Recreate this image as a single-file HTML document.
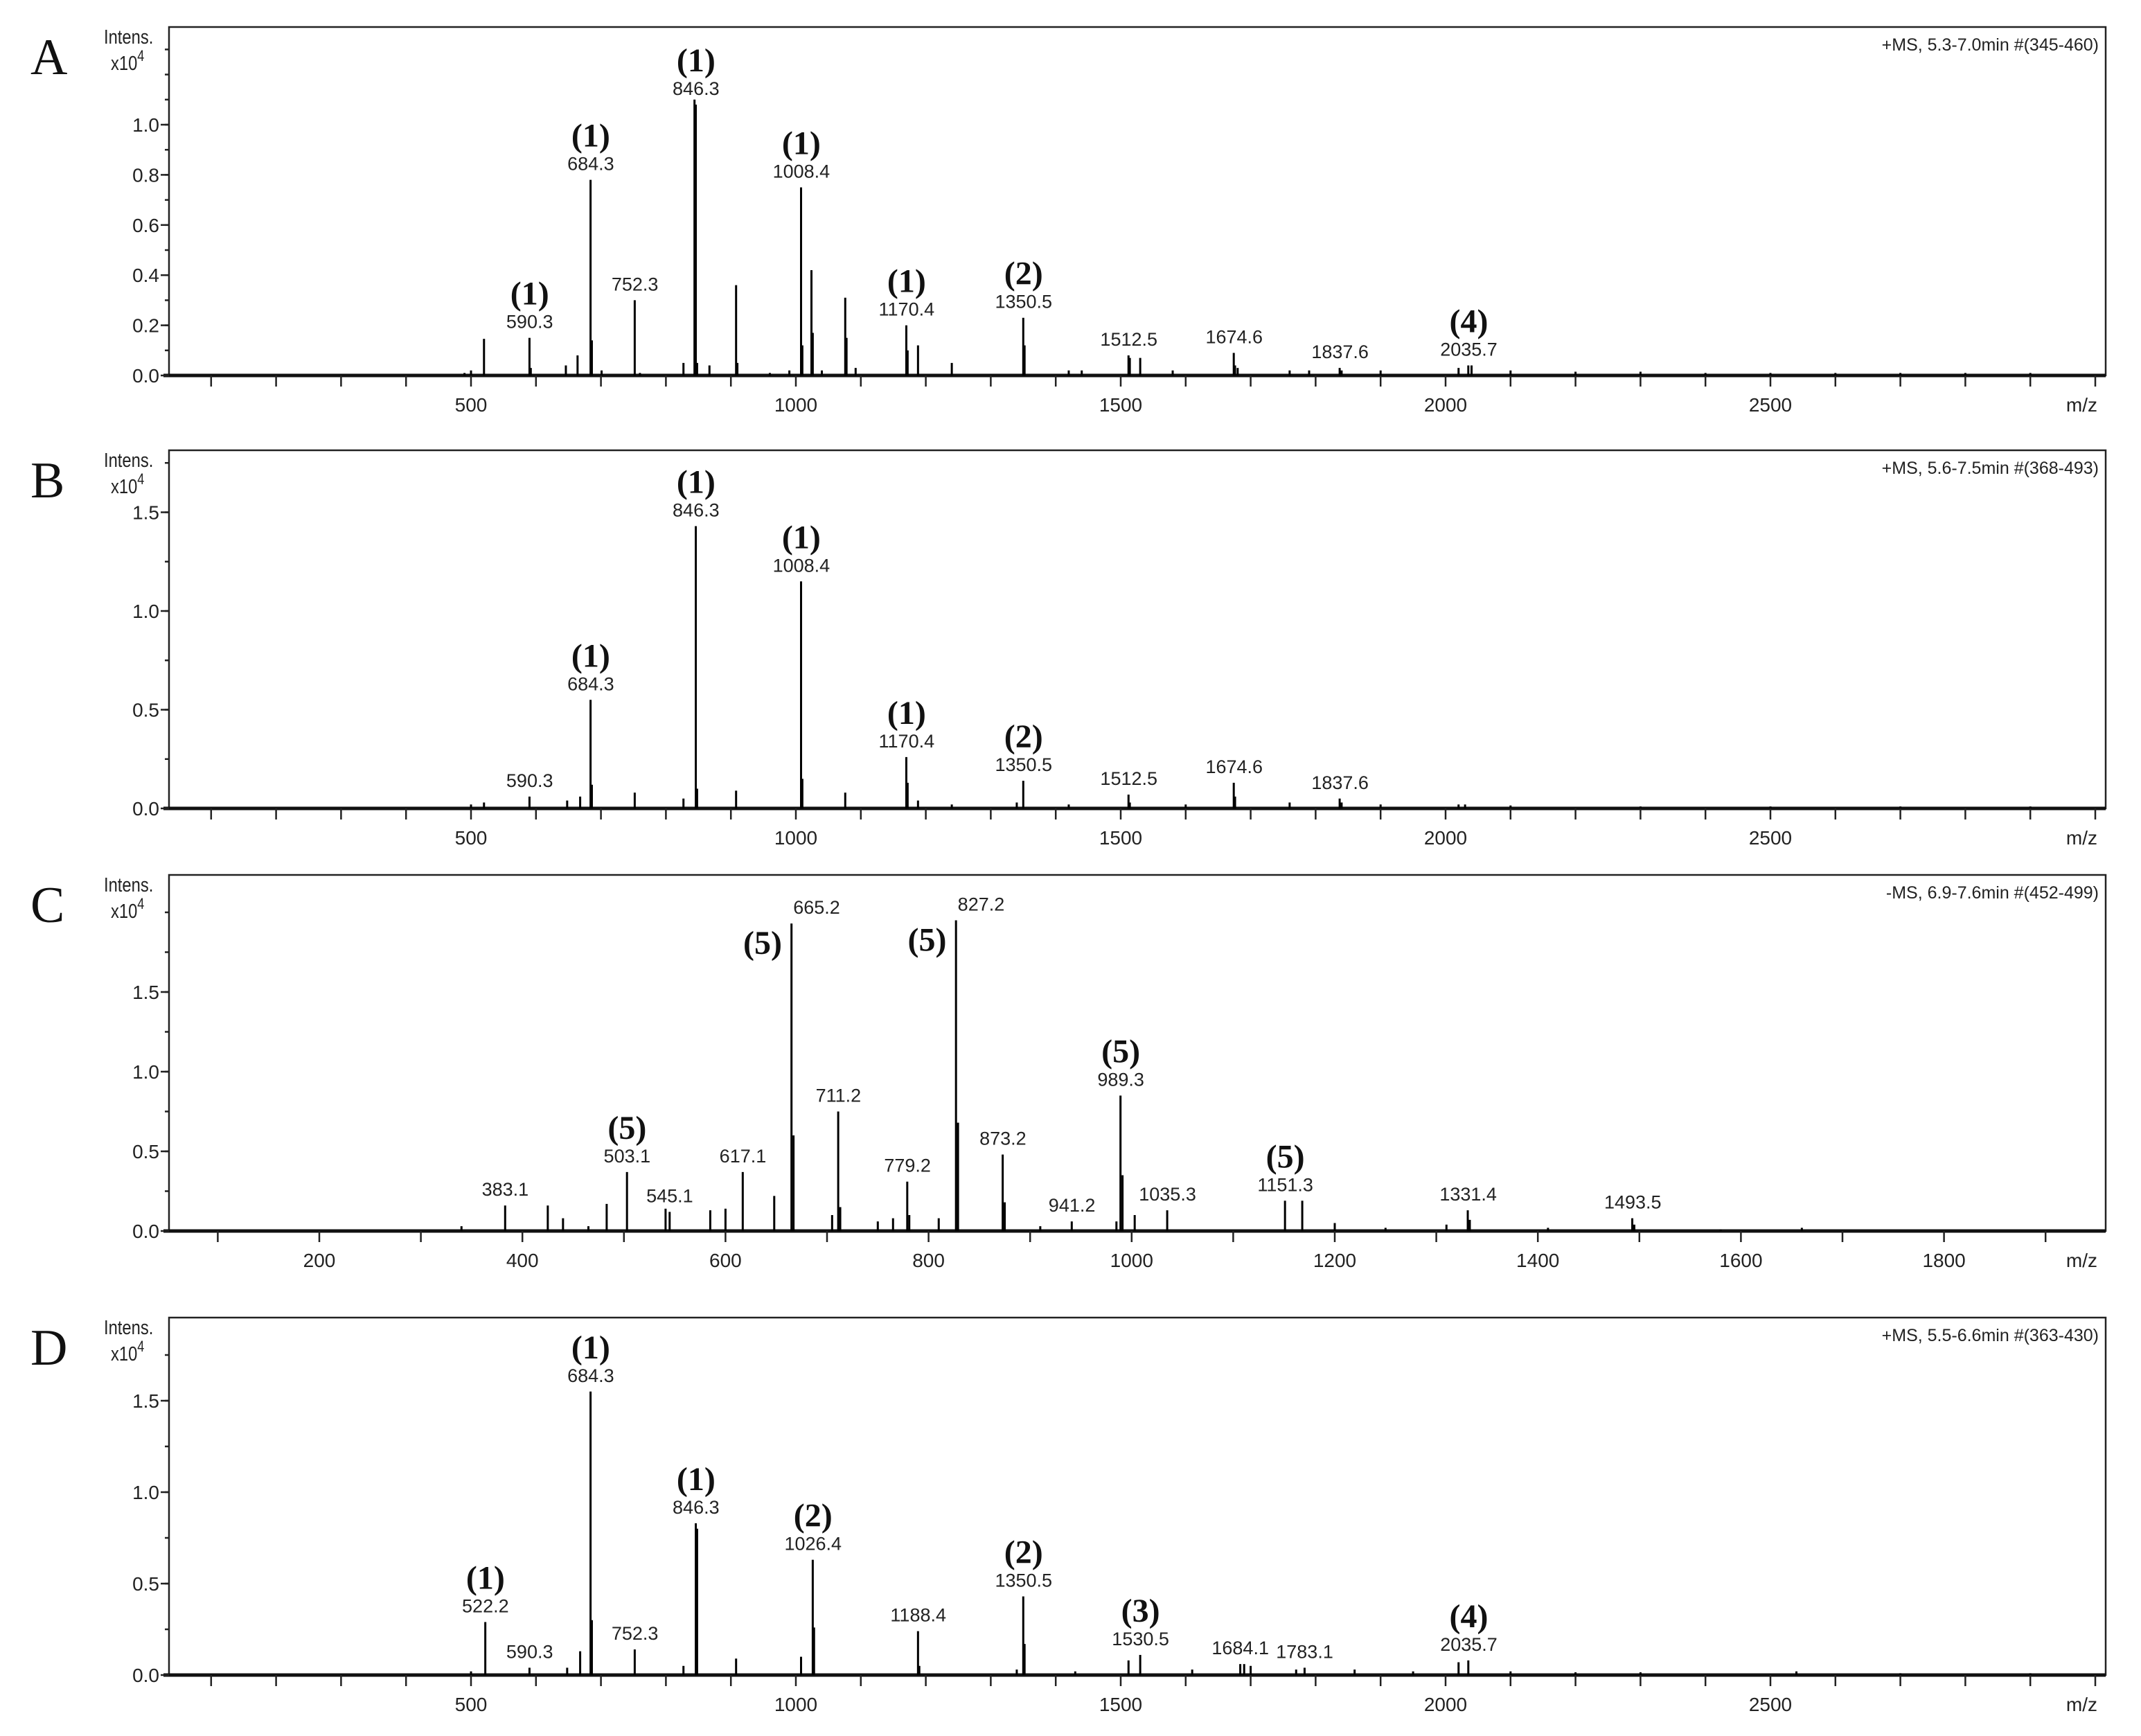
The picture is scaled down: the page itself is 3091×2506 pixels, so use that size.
<!DOCTYPE html>
<html><head><meta charset="utf-8"><title>Mass spectra A-D</title>
<style>
html,body{margin:0;padding:0;background:#fff;}
svg{display:block;font-family:"Liberation Sans",sans-serif;}
.num{font-size:27px;fill:#222;}
.ann{font-family:"Liberation Serif",serif;font-weight:bold;font-size:48px;fill:#111;}
.tick{font-size:28px;fill:#222;}
.letter{font-family:"Liberation Serif",serif;font-size:74px;fill:#111;}
</style></head>
<body>
<svg id="chart" width="3091" height="2506" viewBox="0 0 3091 2506" xmlns="http://www.w3.org/2000/svg"></svg>
<script>
// ---- Panel A data ----
const peaksA_mz  = [490,500,520,590,592,646,664,684,686,701,752,760,827,844,846,848,867,908,910,960,990,1008,1010,1024,1026,1040,1076,1078,1092,1170,1172,1188,1240,1350,1352,1420,1440,1512,1514,1530,1580,1674,1676,1680,1760,1790,1837,1840,1900,2020,2035,2040,2100,2200,2300,2400,2500,2600,2700,2800,2900];
const peaksA_int = [0.01,0.02,0.146,0.15,0.03,0.04,0.08,0.78,0.14,0.02,0.30,0.01,0.05,1.10,1.08,0.05,0.04,0.36,0.05,0.01,0.02,0.75,0.12,0.42,0.17,0.02,0.31,0.15,0.03,0.20,0.10,0.12,0.05,0.23,0.12,0.02,0.02,0.08,0.07,0.07,0.02,0.09,0.04,0.03,0.02,0.02,0.03,0.02,0.02,0.03,0.04,0.04,0.02,0.015,0.015,0.01,0.01,0.01,0.01,0.01,0.01];
const labelsA_mz  = [590.3,684.3,752.3,846.3,1008.4,1170.4,1350.5,1512.5,1674.6,1837.6,2035.7];
const labelsA_txt = ["590.3","684.3","752.3","846.3","1008.4","1170.4","1350.5","1512.5","1674.6","1837.6","2035.7"];
const labelsA_ann = ["(1)","(1)","","(1)","(1)","(1)","(2)","","","","(4)"];
// ---- Panel B data ----
const peaksB_mz  = [500,520,590,648,668,684,686,752,827,846,848,908,1008,1010,1076,1170,1172,1188,1240,1340,1350,1420,1512,1514,1600,1674,1676,1760,1837,1840,1900,2020,2030,2100,2300,2500,2700,2900];
const peaksB_int = [0.02,0.03,0.06,0.04,0.06,0.55,0.12,0.08,0.05,1.43,0.10,0.09,1.15,0.15,0.08,0.26,0.13,0.04,0.02,0.03,0.14,0.02,0.07,0.03,0.02,0.13,0.06,0.03,0.05,0.03,0.02,0.02,0.02,0.015,0.01,0.01,0.01,0.01];
const labelsB_mz  = [590.3,684.3,846.3,1008.4,1170.4,1350.5,1512.5,1674.6,1837.6];
const labelsB_txt = ["590.3","684.3","846.3","1008.4","1170.4","1350.5","1512.5","1674.6","1837.6"];
const labelsB_ann = ["","(1)","(1)","(1)","(1)","(2)","","",""];
// ---- Panel C data ----
const peaksC_mz  = [340,383,425,440,465,483,503,541,545,585,600,617,648,665,667,705,711,713,750,765,779,781,810,827,829,873,875,910,941,985,989,991,1003,1035,1151,1168,1200,1250,1310,1331,1333,1410,1493,1495,1580,1660];
const peaksC_int = [0.03,0.16,0.16,0.08,0.03,0.17,0.37,0.14,0.12,0.13,0.14,0.37,0.22,1.93,0.60,0.10,0.75,0.15,0.06,0.08,0.31,0.10,0.08,1.95,0.68,0.48,0.18,0.03,0.06,0.06,0.85,0.35,0.10,0.13,0.19,0.19,0.05,0.02,0.04,0.13,0.07,0.02,0.08,0.04,0.01,0.02];
const labelsC_mz  = [383.1,503.1,545.1,617.1,665.2,711.2,779.2,827.2,873.2,941.2,989.3,1035.3,1151.3,1331.4,1493.5];
const labelsC_txt = ["383.1","503.1","545.1","617.1","665.2","711.2","779.2","827.2","873.2","941.2","989.3","1035.3","1151.3","1331.4","1493.5"];
const labelsC_ann = ["","(5)","","","(5)L","","","(5)L","","","(5)","","(5)","",""];
// ---- Panel D data ----
const peaksD_mz  = [500,522,590,648,668,684,686,752,827,846,848,908,1008,1026,1028,1188,1190,1340,1350,1352,1430,1512,1530,1610,1684,1690,1700,1770,1783,1860,1950,2020,2035,2100,2200,2300,2540,2700,2900];
const peaksD_int = [0.02,0.29,0.04,0.04,0.13,1.55,0.30,0.14,0.05,0.83,0.80,0.09,0.10,0.63,0.26,0.24,0.05,0.03,0.43,0.17,0.02,0.08,0.11,0.03,0.06,0.06,0.05,0.03,0.04,0.03,0.02,0.07,0.08,0.02,0.015,0.015,0.02,0.01,0.01];
const labelsD_mz  = [522.2,590.3,684.3,752.3,846.3,1026.4,1188.4,1350.5,1530.5,1684.1,1783.1,2035.7];
const labelsD_txt = ["522.2","590.3","684.3","752.3","846.3","1026.4","1188.4","1350.5","1530.5","1684.1","1783.1","2035.7"];
const labelsD_ann = ["(1)","","(1)","","(1)","(2)","","(2)","(3)","","","(4)"];
// ---- axis tick definitions ----
const yTicksA = [0.0,0.2,0.4,0.6,0.8,1.0];
const yTicksB = [0.0,0.5,1.0,1.5];
const xLabelsWide = [500,1000,1500,2000,2500];
const xLabelsC = [200,400,600,800,1000,1200,1400,1600,1800];

const NS="http://www.w3.org/2000/svg";
const svg=document.getElementById('chart');
function mk(tag,attrs,parent){const e=document.createElementNS(NS,tag);for(const k in attrs)e.setAttribute(k,attrs[k]);(parent||svg).appendChild(e);return e;}

const L=244, R=3040;
function wideX(mz){return 680+(mz-500)*0.938;}
function cX(mz){return 461+(mz-200)*1.466;}

const panels=[
 {id:'a',letter:'A',top:39,base:542,per:362,x:wideX,minMz:37,maxMz:3022,yT:yTicksA,yMinor:0.1,yMax:1.39,xL:xLabelsWide,xMinor:100,title:'+MS, 5.3-7.0min #(345-460)',pm:peaksA_mz,pi:peaksA_int,lm:labelsA_mz,lt:labelsA_txt,la:labelsA_ann},
 {id:'b',letter:'B',top:650,base:1167,per:285,x:wideX,minMz:37,maxMz:3022,yT:yTicksB,yMinor:0.25,yMax:1.82,xL:xLabelsWide,xMinor:100,title:'+MS, 5.6-7.5min #(368-493)',pm:peaksB_mz,pi:peaksB_int,lm:labelsB_mz,lt:labelsB_txt,la:labelsB_ann},
 {id:'c',letter:'C',top:1263,base:1777,per:230,x:cX,minMz:47,maxMz:1956,yT:yTicksB,yMinor:0.25,yMax:2.23,xL:xLabelsC,xMinor:100,title:'-MS, 6.9-7.6min #(452-499)',pm:peaksC_mz,pi:peaksC_int,lm:labelsC_mz,lt:labelsC_txt,la:labelsC_ann},
 {id:'d',letter:'D',top:1902,base:2418,per:264,x:wideX,minMz:37,maxMz:3022,yT:yTicksB,yMinor:0.25,yMax:1.95,xL:xLabelsWide,xMinor:100,title:'+MS, 5.5-6.6min #(363-430)',pm:peaksD_mz,pi:peaksD_int,lm:labelsD_mz,lt:labelsD_txt,la:labelsD_ann}
];

panels.forEach(p=>{
  const g=mk('g',{});
  
  
  const Y=v=>p.base-v*p.per;
  const let_=mk('text',{x:44,y:p.top+68,class:'letter'},g);let_.textContent=p.letter;
  
  
  const fr=mk('rect',{x:L,y:p.top,width:R-L,height:p.base-p.top,fill:'none',stroke:'#222','stroke-width':2.5},g);
  
  
  const bl=mk('line',{x1:L-8,x2:R,y1:p.base,y2:p.base,stroke:'#111','stroke-width':5},g);
  
  
  const it=mk('text',{x:150,y:p.top+24,'font-size':29,fill:'#222'},g);
  it.setAttribute('transform',`matrix(0.82,0,0,1,${150*0.18},0)`);
  it.textContent='Intens.';
  
  
  const xt=mk('text',{x:160,y:p.top+62,'font-size':29,fill:'#222'},g);
  xt.setAttribute('transform',`matrix(0.82,0,0,1,${160*0.18},0)`);
  xt.innerHTML='x10<tspan dy="-13" font-size="22">4</tspan>';
  
  
  const ti=mk('text',{x:R-10,y:p.top+34,'font-size':25,fill:'#222','text-anchor':'end'},g);
  ti.textContent=p.title;
  
  
  for(let v=0;v<=p.yMax+1e-9;v+=p.yMinor){
    const l=mk('line',{x1:L-6,x2:L,y1:Y(v),y2:Y(v),stroke:'#222','stroke-width':2.5},g);
    
    
  }
  p.yT.forEach(v=>{
    const l=mk('line',{x1:L-12,x2:L,y1:Y(v),y2:Y(v),stroke:'#222','stroke-width':2.5},g);
    
    
    const t=mk('text',{x:L-14,y:Y(v)+10,class:'tick','text-anchor':'end'},g);
    t.textContent=v.toFixed(1);
    
    
  });
  for(let m=Math.ceil(p.minMz/p.xMinor)*p.xMinor;m<=p.maxMz;m+=p.xMinor){
    const l=mk('line',{x1:p.x(m),x2:p.x(m),y1:p.base,y2:p.base+16,stroke:'#222','stroke-width':2.5},g);
    
    
  }
  p.xL.forEach(m=>{
    const t=mk('text',{x:p.x(m),y:p.base+52,class:'tick','text-anchor':'middle'},g);
    t.textContent=m;
    
    
  });
  const mz=mk('text',{x:R-12,y:p.base+52,class:'tick','text-anchor':'end'},g);mz.textContent='m/z';
  
  
  p.pm.forEach((m,i)=>{
    const l=mk('line',{x1:p.x(m),x2:p.x(m),y1:p.base,y2:Y(p.pi[i]),stroke:'#000','stroke-width':3},g);
    
    
  });
  p.lm.forEach((m,i)=>{
    let best=0,bd=1e9;p.pm.forEach((q,j)=>{const d=Math.abs(q-m);if(d<bd){bd=d;best=j;}});
    const top=Y(p.pi[best]);
    const a=p.la[i];const left=a.endsWith('L');
    const nx=p.x(m)+(left?36:0), ny=top-14;
    const t=mk('text',{x:nx,y:ny,class:'num','text-anchor':'middle'},g);
    t.textContent=p.lt[i];
    
    
    if(a){
      const at=mk('text',{x:left?p.x(m)-42:p.x(m),y:left?ny+58:ny-34,class:'ann','text-anchor':'middle'},g);
      at.textContent=a.replace('L','');
      
      
    }
  });
});
</script>
</body></html>
